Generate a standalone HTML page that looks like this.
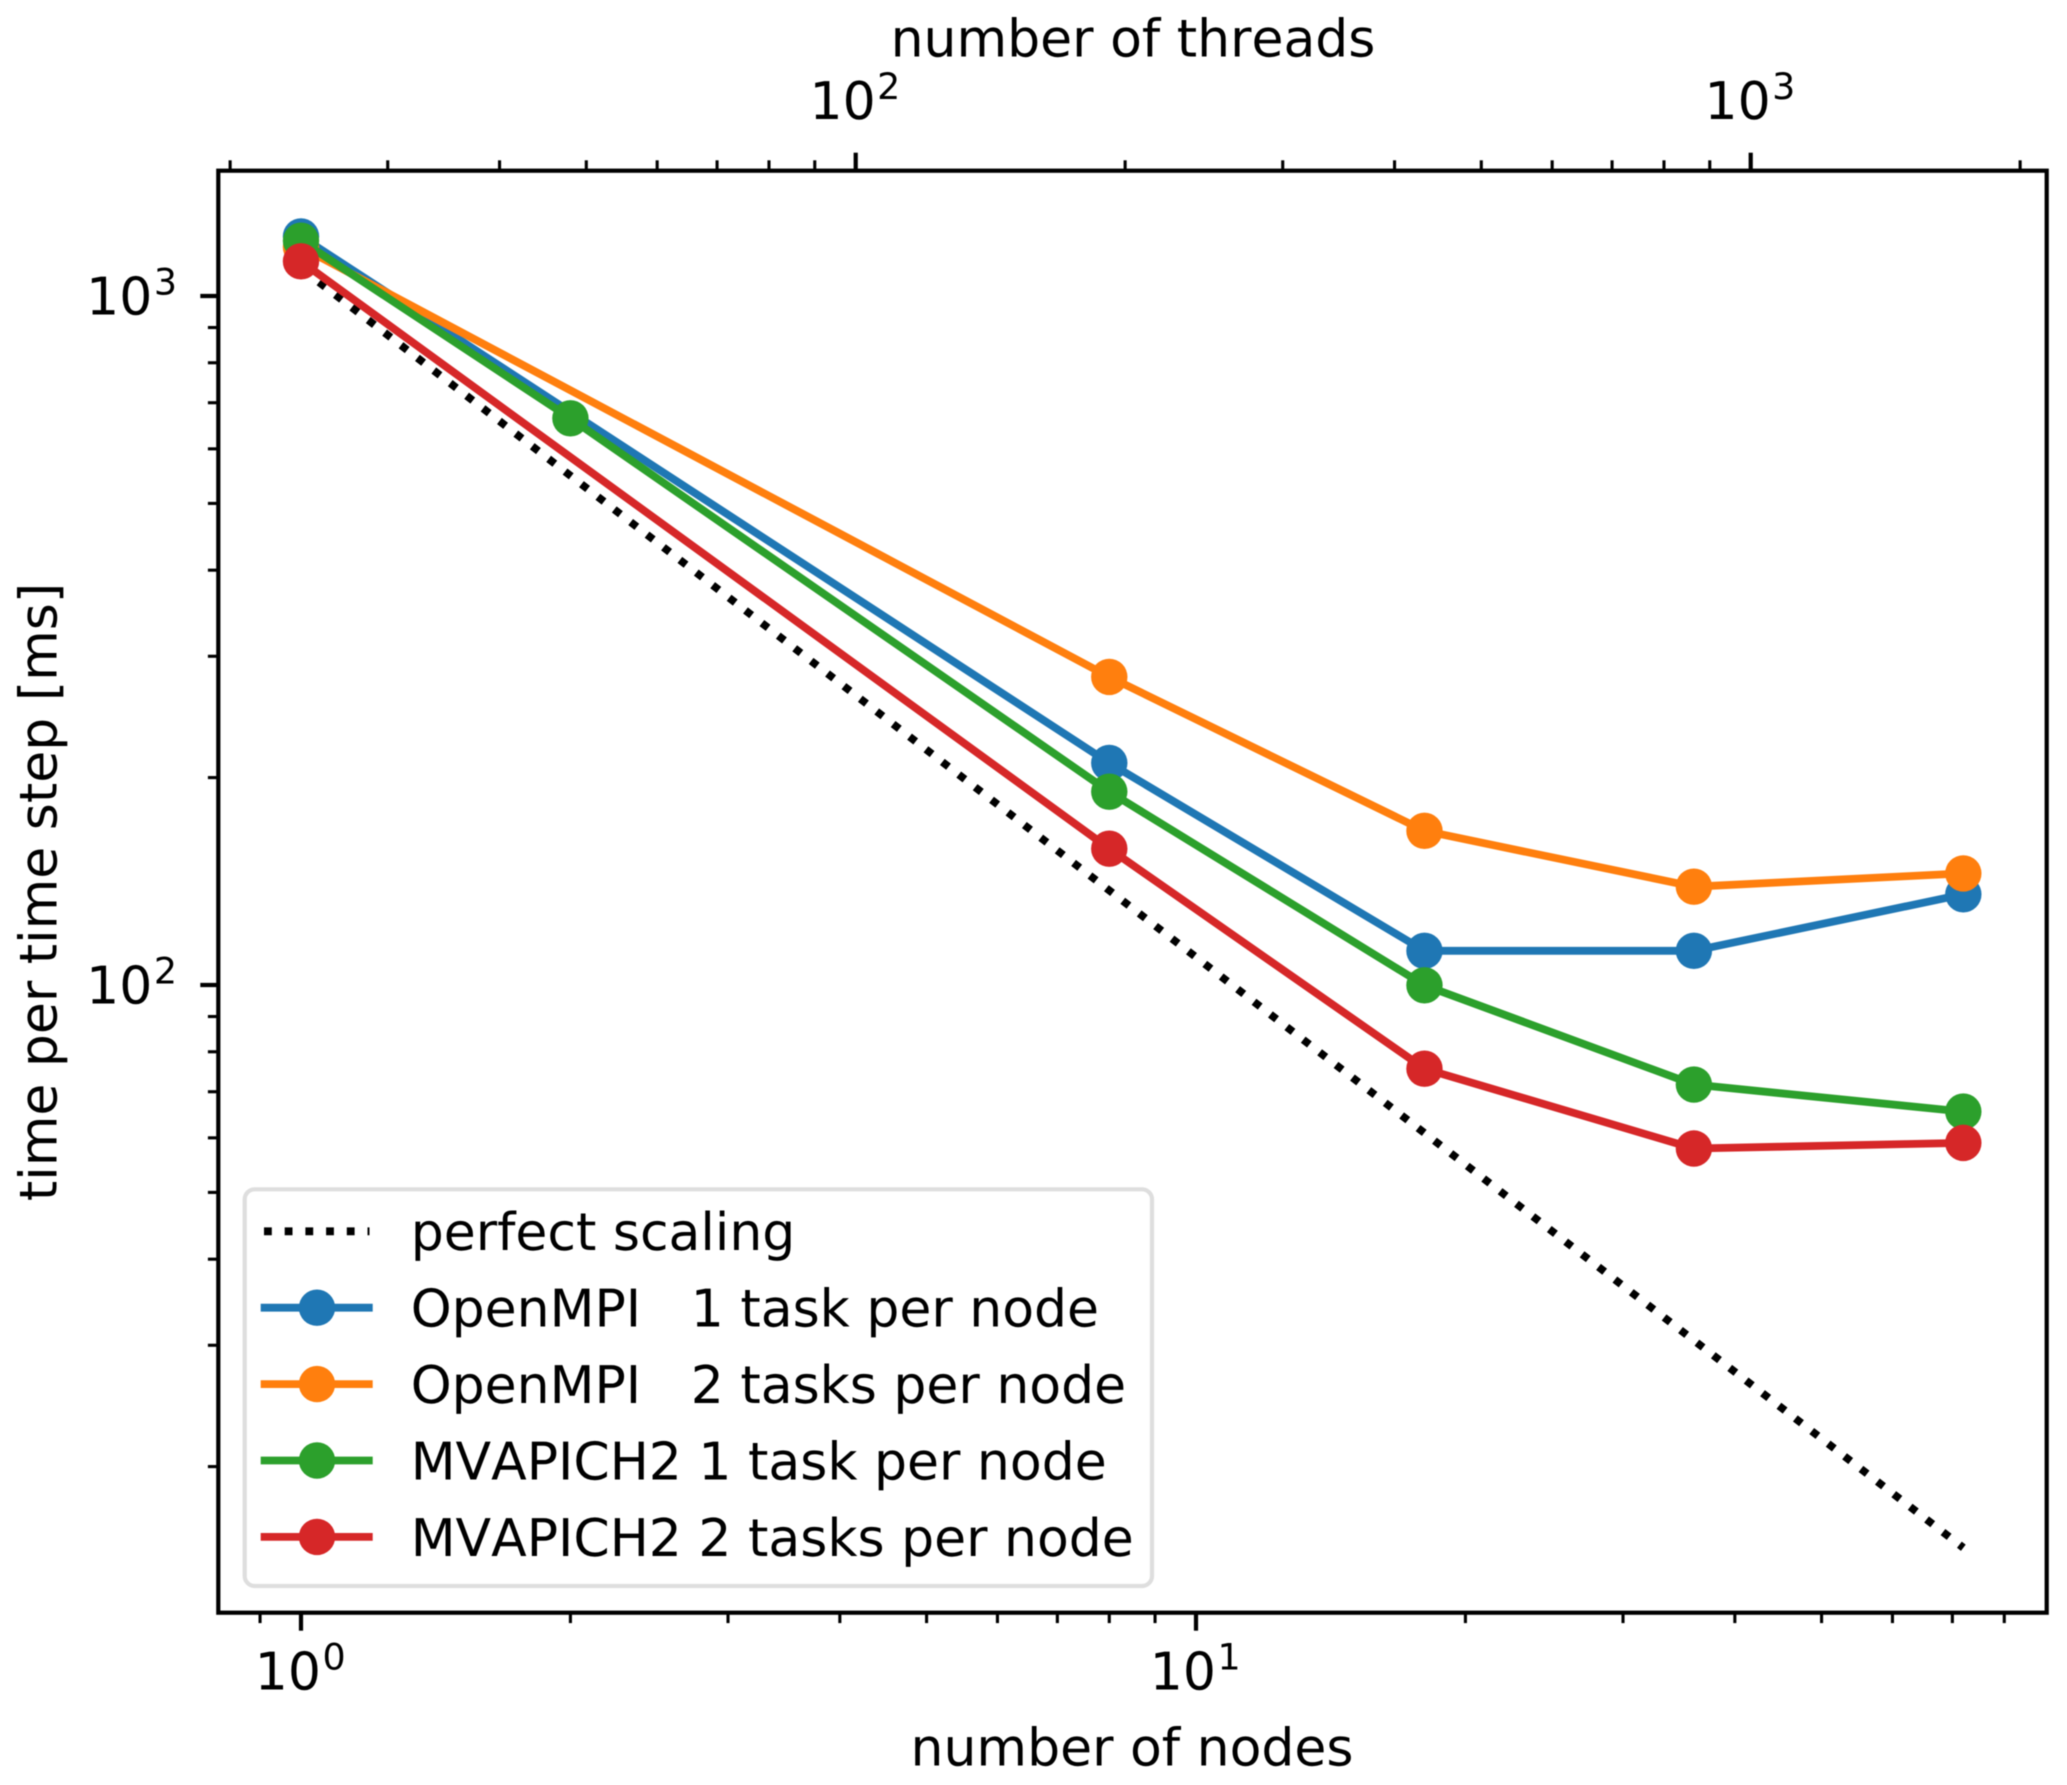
<!DOCTYPE html>
<html lang="en">
<head>
<meta charset="utf-8">
<title>Scaling chart</title>
<style>
html,body{margin:0;padding:0;background:#fff;}
svg{display:block;filter:blur(0.6px);}
text{font-family:"DejaVu Sans","Liberation Sans",sans-serif;font-size:52px;fill:#000;white-space:pre;font-kerning:none;text-rendering:geometricPrecision;}
</style>
</head>
<body>
<svg id="chart" xmlns="http://www.w3.org/2000/svg" width="2067" height="1785" viewBox="0 0 2067 1785">
  <rect x="0" y="0" width="2067" height="1785" fill="#fff"/>
  <g id="marks"></g>
  <g id="ticks"></g>
  <rect x="218.3" y="170.7" width="1828.4" height="1442" fill="none" stroke="#000" stroke-width="4.2"/>
  <text x="1133" y="56.7" text-anchor="middle">number of threads</text>
  <text x="1132" y="1765.7" text-anchor="middle">number of nodes</text>
  <text x="0" y="0" text-anchor="middle" transform="translate(56.7 892) rotate(-90)">time per time step [ms]</text>
  <g>
    <rect x="244.7" y="1189.3" width="907.3" height="396.7" rx="10" ry="10" fill="#fff" fill-opacity="0.8" stroke="#dedede" stroke-width="4.2"/>
    <g>
      <line x1="264" y1="1231.3" x2="369.5" y2="1231.3" stroke="#000" stroke-width="7.8" stroke-dasharray="7.8 12.9"/>
      <text x="410.7" y="1250.2">perfect scaling</text>
    </g>
    <g>
      <line x1="260.7" y1="1307.7" x2="372.7" y2="1307.7" stroke="#1f77b4" stroke-width="7.8"/>
      <circle cx="317" cy="1307.7" r="18.2" fill="#1f77b4"/>
      <text x="410.7" y="1326.6">OpenMPI   1 task per node</text>
    </g>
    <g>
      <line x1="260.7" y1="1384.1" x2="372.7" y2="1384.1" stroke="#ff7f0e" stroke-width="7.8"/>
      <circle cx="317" cy="1384.1" r="18.2" fill="#ff7f0e"/>
      <text x="410.7" y="1403">OpenMPI   2 tasks per node</text>
    </g>
    <g>
      <line x1="260.7" y1="1460.5" x2="372.7" y2="1460.5" stroke="#2ca02c" stroke-width="7.8"/>
      <circle cx="317" cy="1460.5" r="18.2" fill="#2ca02c"/>
      <text x="410.7" y="1479.4">MVAPICH2 1 task per node</text>
    </g>
    <g>
      <line x1="260.7" y1="1536.9" x2="372.7" y2="1536.9" stroke="#d62728" stroke-width="7.8"/>
      <circle cx="317" cy="1536.9" r="18.2" fill="#d62728"/>
      <text x="410.7" y="1555.8">MVAPICH2 2 tasks per node</text>
    </g>
  </g>
</svg>
<script>
// Data
const nodesFive = [1, 8, 18, 36, 72];
const nodesSix = [1, 2, 8, 18, 36, 72];
const perfectNodes = [1, 72];
const perfectValues = [1097, 15.25];
const openmpi1Values = [1220, 210, 112.1, 112.1, 135.4];
const openmpi2Values = [1178, 280, 167.4, 138.9, 145.2];
const mvapich1Values = [1203, 664.5, 190.8, 99.9, 71.7, 65.5];
const mvapich2Values = [1123, 157.7, 75.6, 57.9, 59.0];
const threadsPerNode = 24;

// Tick values and labels
const bottomMajorTicks = [1, 10];
const bottomMajorExponents = ['0', '1'];
const bottomMinorTicks = [0.9, 2, 3, 4, 5, 6, 7, 8, 9, 20, 30, 40, 50, 60, 70, 80];
const topMajorTicks = [100, 1000];
const topMajorExponents = ['2', '3'];
const topMinorTicks = [20, 30, 40, 50, 60, 70, 80, 90, 200, 300, 400, 500, 600, 700, 800, 900, 2000];
const leftMajorTicks = [1000, 100];
const leftMajorExponents = ['3', '2'];
const leftMinorTicks = [900, 800, 700, 600, 500, 400, 300, 200, 90, 80, 70, 60, 50, 40, 30, 20];

const NS = 'http://www.w3.org/2000/svg';
const plotLeft = 218.3, plotRight = 2046.7, plotTop = 170.7, plotBottom = 1612.7;

// Axis functions
function xNodes(v) { return 301 + 895 * Math.log10(v); }
function xThreads(v) { return xNodes(v / threadsPerNode); }
function yTime(v) { return 296 + 689 * (3 - Math.log10(v)); }

const marks = document.getElementById('marks');
const ticks = document.getElementById('ticks');

function drawLine(name, xs, ys, color, dashed) {
  const p = document.createElementNS(NS, 'polyline');
  
  
  p.setAttribute('points', xs.map(function (x, i) { return xNodes(x).toFixed(2) + ',' + yTime(ys[i]).toFixed(2); }).join(' '));
  p.setAttribute('fill', 'none');
  p.setAttribute('stroke', color);
  p.setAttribute('stroke-width', '7.8');
  p.setAttribute('stroke-linejoin', 'round');
  if (dashed) {
    p.setAttribute('stroke-dasharray', '7.8 12.9');
    p.setAttribute('stroke-dashoffset', '18.7');
  }
  marks.appendChild(p);
}

function drawPoints(name, xs, ys, color) {
  xs.forEach(function (x, i) {
    const c = document.createElementNS(NS, 'circle');
    
    
    c.setAttribute('cx', xNodes(x).toFixed(2));
    c.setAttribute('cy', yTime(ys[i]).toFixed(2));
    c.setAttribute('r', '18.2');
    c.setAttribute('fill', color);
    marks.appendChild(c);
  });
}

function drawSeries(name, xs, ys, color) {
  drawLine(name + '-line', xs, ys, color, false);
  drawPoints(name + '-point', xs, ys, color);
}

drawLine('perfect-scaling-line', perfectNodes, perfectValues, '#000', true);
drawSeries('openmpi-1-task', nodesFive, openmpi1Values, '#1f77b4');
drawSeries('openmpi-2-tasks', nodesFive, openmpi2Values, '#ff7f0e');
drawSeries('mvapich2-1-task', nodesSix, mvapich1Values, '#2ca02c');
drawSeries('mvapich2-2-tasks', nodesFive, mvapich2Values, '#d62728');

function tickMark(name, x1, y1, x2, y2, width) {
  const l = document.createElementNS(NS, 'line');
  
  
  l.setAttribute('x1', x1.toFixed(2));
  l.setAttribute('y1', y1.toFixed(2));
  l.setAttribute('x2', x2.toFixed(2));
  l.setAttribute('y2', y2.toFixed(2));
  l.setAttribute('stroke', '#000');
  l.setAttribute('stroke-width', width);
  ticks.appendChild(l);
}

function tickLabel(name, x, y, anchor, exponent) {
  const t = document.createElementNS(NS, 'text');
  
  
  t.setAttribute('x', x.toFixed(2));
  t.setAttribute('y', y.toFixed(2));
  t.setAttribute('text-anchor', anchor);
  const base = document.createElementNS(NS, 'tspan');
  base.textContent = '10';
  t.appendChild(base);
  const sup = document.createElementNS(NS, 'tspan');
  sup.setAttribute('dy', '-20');
  sup.setAttribute('dx', '1.5');
  sup.setAttribute('style', 'font-size:36.4px');
  sup.textContent = exponent;
  t.appendChild(sup);
  ticks.appendChild(t);
}

const majorLen = 18, minorLen = 10.4, majorW = 4.2, minorW = 3.1;

bottomMinorTicks.forEach(function (v) {
  tickMark('bottom-minor-tick', xNodes(v), plotBottom, xNodes(v), plotBottom + minorLen, minorW);
});
bottomMajorTicks.forEach(function (v, i) {
  tickMark('bottom-major-tick', xNodes(v), plotBottom, xNodes(v), plotBottom + majorLen, majorW);
  tickLabel('bottom-tick-label', xNodes(v) - 0.8, 1689.3, 'middle', bottomMajorExponents[i]);
});
topMinorTicks.forEach(function (v) {
  tickMark('top-minor-tick', xThreads(v), plotTop, xThreads(v), plotTop - minorLen, minorW);
});
topMajorTicks.forEach(function (v, i) {
  tickMark('top-major-tick', xThreads(v), plotTop, xThreads(v), plotTop - majorLen, majorW);
  tickLabel('top-tick-label', xThreads(v) - 0.8, 119, 'middle', topMajorExponents[i]);
});
leftMinorTicks.forEach(function (v) {
  tickMark('left-minor-tick', plotLeft, yTime(v), plotLeft - minorLen, yTime(v), minorW);
});
leftMajorTicks.forEach(function (v, i) {
  tickMark('left-major-tick', plotLeft, yTime(v), plotLeft - majorLen, yTime(v), majorW);
  tickLabel('left-tick-label', 177, yTime(v) + 18.3, 'end', leftMajorExponents[i]);
});
</script>
</body>
</html>
